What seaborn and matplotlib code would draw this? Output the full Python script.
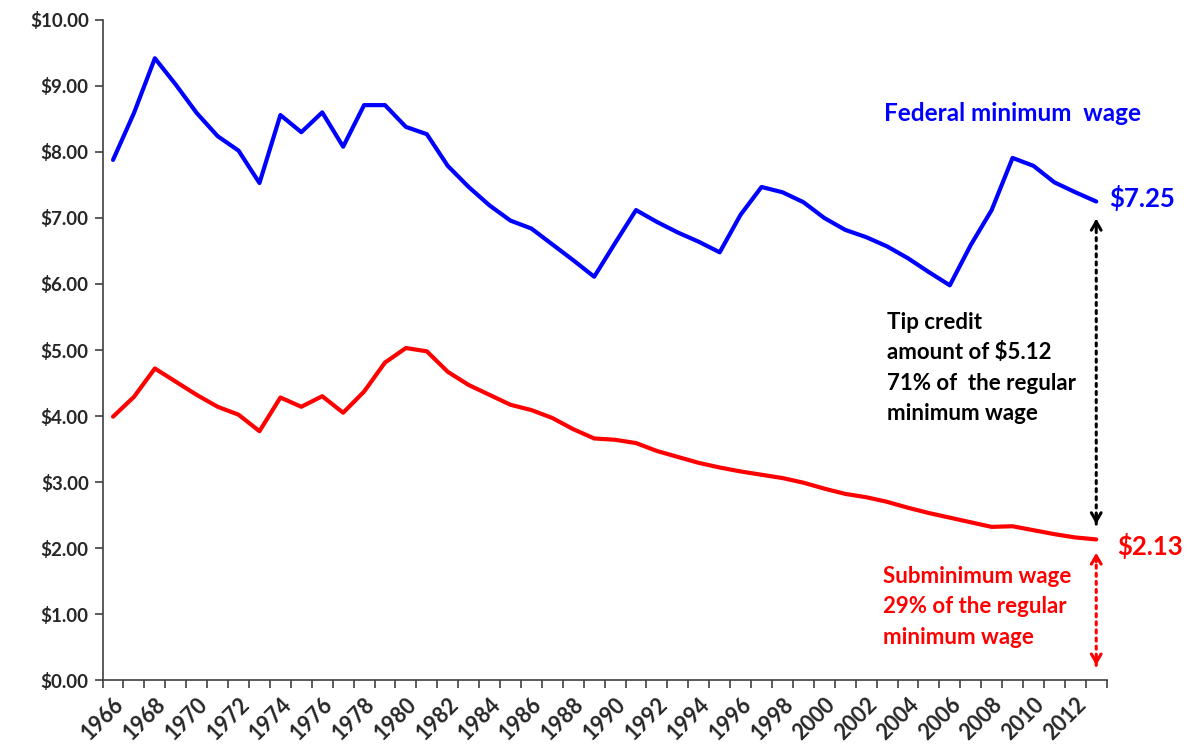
import numpy as np
import pandas as pd
import matplotlib
matplotlib.use("Agg")
import matplotlib.pyplot as plt
import seaborn as sns

# ---------------- data (2013 dollars) ----------------
years = list(range(1966, 2014))

federal_min = [7.88, 8.59, 9.42, 9.02, 8.59, 8.24, 8.02, 7.53, 8.56, 8.30,
               8.60, 8.08, 8.71, 8.71, 8.38, 8.27, 7.79, 7.47, 7.19, 6.96,
               6.84, 6.60, 6.36, 6.11, 6.62, 7.12, 6.94, 6.78, 6.64, 6.48,
               7.05, 7.47, 7.39, 7.24, 7.00, 6.82, 6.71, 6.57, 6.39, 6.18,
               5.98, 6.59, 7.12, 7.91, 7.79, 7.54, 7.39, 7.25]

sub_min = [3.99, 4.29, 4.72, 4.52, 4.32, 4.14, 4.02, 3.77, 4.28, 4.14,
           4.30, 4.05, 4.37, 4.81, 5.03, 4.98, 4.67, 4.47, 4.32, 4.17,
           4.09, 3.97, 3.80, 3.66, 3.64, 3.59, 3.47, 3.38, 3.29, 3.22,
           3.16, 3.11, 3.06, 2.99, 2.90, 2.82, 2.77, 2.70, 2.61, 2.53,
           2.46, 2.39, 2.32, 2.33, 2.27, 2.21, 2.16, 2.13]

y_ticks = [0, 1, 2, 3, 4, 5, 6, 7, 8, 9, 10]
label_years = list(range(1966, 2013, 2))

df = pd.DataFrame({"year": years, "Federal": federal_min, "Sub": sub_min})

BLUE = "#0000FF"
RED = "#FF0000"

# ---------------- plot ----------------
sns.set_style("white")
plt.rcParams["font.family"] = ["Lato", "DejaVu Sans"]
plt.rcParams["font.weight"] = "bold"

fig = plt.figure(figsize=(11.9, 7.51), dpi=100)
ax = fig.add_axes([0.0862, 0.0945, 0.8438, 0.8789])

sns.lineplot(data=df, x="year", y="Federal", color=BLUE, linewidth=3, ax=ax)
sns.lineplot(data=df, x="year", y="Sub", color=RED, linewidth=3, ax=ax)

ax.set_xlim(years[0] - 0.5, years[-1] + 0.5)
ax.set_ylim(0, 10)
ax.set_xlabel("")
ax.set_ylabel("")

# y axis
ax.set_yticks(y_ticks)
ax.set_yticklabels([f"${v:.2f}" for v in y_ticks], fontsize=13.5, fontweight="bold")
ax.tick_params(axis="y", length=6, width=1.2, color="#404040", left=True, pad=4)

# x axis: tick marks between categories, labels every other year
ax.set_xticks([y - 0.5 for y in years] + [years[-1] + 0.5], minor=True)
ax.set_xticks(label_years)
ax.set_xticklabels([str(y) for y in label_years], rotation=45, ha="right",
                   va="top", rotation_mode="anchor", fontsize=15.5, fontweight="bold")
ax.tick_params(axis="x", which="major", length=0, pad=10)
ax.tick_params(axis="x", which="minor", length=6, width=1.2, color="#404040", bottom=True)

for s in ["top", "right"]:
    ax.spines[s].set_visible(False)
for s in ["left", "bottom"]:
    ax.spines[s].set_color("#404040")
    ax.spines[s].set_linewidth(1.2)

# ---------------- annotations ----------------
ax.text(2009.0, 8.59, "Federal minimum  wage", color=BLUE, fontsize=17.5,
        fontweight="bold", ha="center", va="center")
ax.text(2013.6, 7.30, "$7.25", color=BLUE, fontsize=18.5, fontweight="bold",
        ha="left", va="center", clip_on=False)
ax.text(2014.0, 2.03, "$2.13", color=RED, fontsize=18.5, fontweight="bold",
        ha="left", va="center", clip_on=False)

ax.text(2003.0, 4.73, "Tip credit\namount of $5.12\n71% of  the regular\nminimum wage",
        color="black", fontsize=16, fontweight="bold", ha="left", va="center",
        linespacing=1.55)
ax.text(2002.8, 1.11, "Subminimum wage\n29% of the regular\nminimum wage",
        color=RED, fontsize=16, fontweight="bold", ha="left", va="center",
        linespacing=1.55)

# black dotted double arrow (tip credit)
x_arr = years[-1]
ax.annotate("", xy=(x_arr, 7.03), xytext=(x_arr, 2.32),
            arrowprops=dict(arrowstyle="-", color="black", lw=2.2, linestyle=":"))
for tip, base in [((x_arr, 7.03), (x_arr, 6.8)), ((x_arr, 2.32), (x_arr, 2.55))]:
    ax.annotate("", xy=tip, xytext=base,
                arrowprops=dict(arrowstyle="->,head_length=0.6,head_width=0.35",
                                color="black", lw=2.2))

# red dotted double arrow (subminimum)
ax.annotate("", xy=(x_arr, 1.97), xytext=(x_arr, 0.18),
            arrowprops=dict(arrowstyle="-", color=RED, lw=2.2, linestyle=":"))
for tip, base in [((x_arr, 1.97), (x_arr, 1.75)), ((x_arr, 0.18), (x_arr, 0.4))]:
    ax.annotate("", xy=tip, xytext=base,
                arrowprops=dict(arrowstyle="->,head_length=0.6,head_width=0.35",
                                color=RED, lw=2.2))

fig.savefig("out.png", dpi=100)
